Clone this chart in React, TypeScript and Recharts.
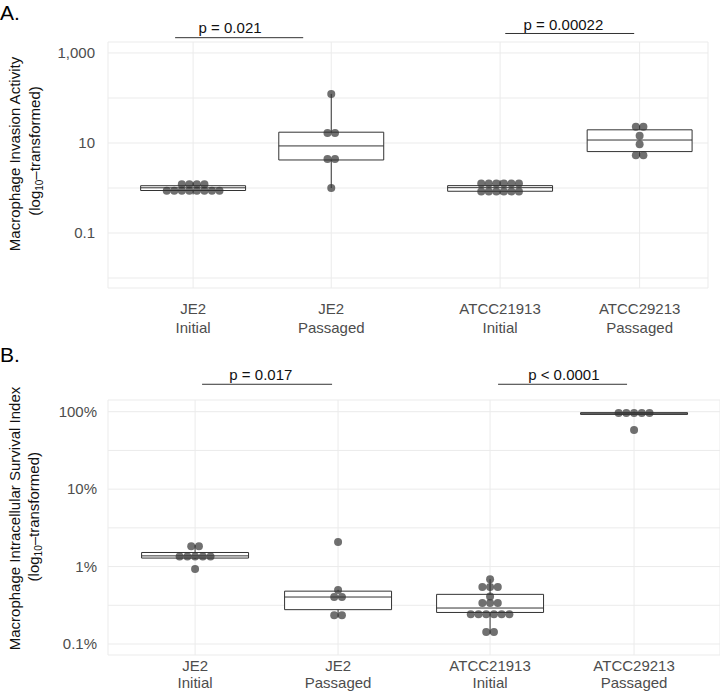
import React from 'react';
import {
  ComposedChart,
  Scatter,
  XAxis,
  YAxis,
  CartesianGrid,
  ReferenceArea,
  ReferenceLine,
  ReferenceDot,
} from 'recharts';

const FONT = '"Liberation Sans", Arial, Helvetica, sans-serif';

// x-axis categories (two text lines each)
const strains = ['JE2', 'JE2', 'ATCC21913', 'ATCC29213'];
const conditions = ['Initial', 'Passaged', 'Initial', 'Passaged'];

// A. Macrophage invasion activity (raw values, shown on a log10 axis)
const invasionJE2Initial = [0.72, 0.79, 0.85, 0.89, 0.93, 1.0, 1.02, 1.05, 1.1, 1.2, 1.26, 1.33];
const invasionJE2Passaged = [1.0, 3.98, 4.9, 15.1, 18.2, 123];
const invasionATCC21913Initial = [0.724, 0.794, 0.832, 0.851, 0.912, 0.964, 1.072, 1.096, 1.122, 1.148, 1.318, 1.479];
const invasionATCC29213Passaged = [5.01, 5.69, 9.35, 14.5, 21.7, 24.5];
const invasionTicks = [-2, -1, 0, 1, 2, 3];
const invasionTickLabels = ['', '0.1', '', '10', '', '1,000'];
const invasionPValues = ['p = 0.021', 'p = 0.00022'];

// B. Macrophage intracellular survival index (%)
const survivalJE2Initial = [0.93, 1.25, 1.3, 1.35, 1.4, 1.45, 1.75, 1.9];
const survivalJE2Passaged = [0.22, 0.25, 0.38, 0.43, 0.5, 2.07];
const survivalATCC21913Initial = [0.135, 0.151, 0.219, 0.251, 0.257, 0.263, 0.269, 0.269, 0.316, 0.339, 0.363, 0.412, 0.525, 0.543, 0.562, 0.687];
const survivalATCC29213Passaged = [58, 92, 93, 95, 98, 100];
const survivalTicks = [-1, -0.5, 0, 0.5, 1, 1.5, 2];
const survivalTickLabels = ['0.1%', '', '1%', '', '10%', '', '100%'];
const survivalPValues = ['p = 0.017', 'p < 0.0001'];

const DOT_STEP = 0.054;

// dot-density binning on the log scale (like geom_dotplot, binaxis = y)
function logBins(vals: number[], bw: number) {
  const s = vals.map(Math.log10).sort((a, b) => a - b);
  const bins: { center: number; count: number }[] = [];
  let i = 0;
  while (i < s.length) {
    let j = i;
    while (j + 1 < s.length && s[j + 1] - s[i] < bw) j++;
    bins.push({ center: (s[i] + s[j]) / 2, count: j - i + 1 });
    i = j + 1;
  }
  return bins;
}

function quantile(s: number[], p: number) {
  const h = (s.length - 1) * p;
  const lo = Math.floor(h);
  const next = lo + 1 < s.length ? s[lo + 1] : s[lo];
  return s[lo] + (h - lo) * (next - s[lo]);
}

function boxStats(vals: number[]) {
  const s = vals.map(Math.log10).sort((a, b) => a - b);
  const q1 = quantile(s, 0.25);
  const med = quantile(s, 0.5);
  const q3 = quantile(s, 0.75);
  const iqr = q3 - q1;
  const lo = Math.min(...s.filter((v) => v >= q1 - 1.5 * iqr));
  const hi = Math.max(...s.filter((v) => v <= q3 + 1.5 * iqr));
  return { q1, med, q3, lo, hi };
}

function dotsFor(vals: number[], pos: number, bw: number) {
  const out: { x: number; y: number }[] = [];
  logBins(vals, bw).forEach((b) => {
    for (let k = 0; k < b.count; k++) {
      out.push({ x: pos + (k - (b.count - 1) / 2) * DOT_STEP, y: b.center });
    }
  });
  return out;
}

function CategoryTick(props: any) {
  const { x, y, payload, pos, dy1, gap } = props;
  const i = pos.indexOf(payload.value);
  if (i < 0) return null;
  return (
    <text x={x} textAnchor="middle" fill="#4d4d4d" fontSize={15} fontFamily={FONT}>
      <tspan x={x} y={y + dy1}>{strains[i]}</tspan>
      <tspan x={x} y={y + dy1 + gap}>{conditions[i]}</tspan>
    </text>
  );
}

function Panel({ groups, cfg, ticks, tickLabels, pValues }: any) {
  const stats = groups.map(boxStats);
  const dots = groups.flatMap((g: number[], i: number) => dotsFor(g, cfg.pos[i], cfg.binwidth));

  return (
    <ComposedChart
      width={720}
      height={cfg.height}
      margin={{ top: cfg.top, right: cfg.right, bottom: 0, left: 0 }}
    >
      <CartesianGrid stroke="#ebebeb" strokeWidth={1} />
      <XAxis
        type="number"
        dataKey="x"
        domain={cfg.xDomain}
        ticks={cfg.pos}
        interval={0}
        allowDataOverflow
        axisLine={false}
        tickLine={false}
        tickSize={0}
        height={cfg.xAxisHeight}
        tick={(p: any) => <CategoryTick {...p} pos={cfg.pos} dy1={cfg.labelDy} gap={cfg.labelGap} />}
      />
      <YAxis
        type="number"
        dataKey="y"
        domain={cfg.yDomain}
        ticks={ticks}
        interval={0}
        allowDataOverflow
        axisLine={false}
        tickLine={false}
        tickSize={0}
        tickMargin={cfg.tickMargin}
        width={108}
        tick={{ fill: '#4d4d4d', fontSize: 15, fontFamily: FONT }}
        tickFormatter={(v: number) => tickLabels[ticks.indexOf(v)] ?? ''}
      />
      {stats.map((s: any, i: number) => (
        <ReferenceLine
          key={'wu' + i}
          segment={[{ x: cfg.pos[i], y: s.q3 }, { x: cfg.pos[i], y: s.hi }]}
          stroke="#333"
          strokeWidth={1}
        />
      ))}
      {stats.map((s: any, i: number) => (
        <ReferenceLine
          key={'wl' + i}
          segment={[{ x: cfg.pos[i], y: s.q1 }, { x: cfg.pos[i], y: s.lo }]}
          stroke="#333"
          strokeWidth={1}
        />
      ))}
      {stats.map((s: any, i: number) => (
        <ReferenceArea
          key={'box' + i}
          x1={cfg.pos[i] - cfg.boxHalf}
          x2={cfg.pos[i] + cfg.boxHalf}
          y1={s.q1}
          y2={s.q3}
          fill="#fff"
          fillOpacity={1}
          stroke="#333"
          strokeWidth={1}
        />
      ))}
      {stats.map((s: any, i: number) => (
        <ReferenceLine
          key={'med' + i}
          segment={[{ x: cfg.pos[i] - cfg.boxHalf, y: s.med }, { x: cfg.pos[i] + cfg.boxHalf, y: s.med }]}
          stroke="#333"
          strokeWidth={1}
        />
      ))}
      <Scatter
        data={dots}
        isAnimationActive={false}
        shape={(p: any) => <circle cx={p.cx} cy={p.cy} r={4} fill="#333" fillOpacity={0.7} />}
      />
      {cfg.brackets.map((b: any, i: number) => (
        <ReferenceLine
          key={'br' + i}
          segment={[{ x: b.x1, y: b.y }, { x: b.x2, y: b.y }]}
          stroke="#333"
          strokeWidth={1}
          ifOverflow="visible"
        />
      ))}
      {cfg.brackets.map((b: any, i: number) => (
        <ReferenceDot
          key={'pv' + i}
          x={b.tx}
          y={b.ty}
          r={0}
          ifOverflow="visible"
          shape={(p: any) => (
            <text x={p.cx} y={p.cy} textAnchor="middle" fill="#111" fontSize={15} fontFamily={FONT}>
              {pValues[i]}
            </text>
          )}
        />
      ))}
    </ComposedChart>
  );
}

const layoutA = {
  height: 345,
  top: 42,
  right: 12,
  xAxisHeight: 57,
  tickMargin: 13,
  xDomain: [0.39, 4.69],
  yDomain: [-2.222, 3.244],
  pos: [1, 1.99, 3.2, 4.2],
  boxHalf: 0.376,
  binwidth: 0.167,
  labelDy: 24.4,
  labelGap: 18.3,
  brackets: [
    { x1: 0.871, x2: 1.789, y: 3.34, tx: 1.265, ty: 3.433 },
    { x1: 3.237, x2: 4.161, y: 3.433, tx: 3.654, ty: 3.511 },
  ],
};

const layoutB = {
  height: 356,
  top: 65,
  right: 0,
  xAxisHeight: 36,
  tickMargin: 11,
  xDomain: [0.391, 4.671],
  yDomain: [-1.142, 2.151],
  pos: [1, 2, 3.063, 4.07],
  boxHalf: 0.374,
  binwidth: 0.1,
  labelDy: 14,
  labelGap: 17,
  brackets: [
    { x1: 1.049, x2: 1.958, y: 2.354, tx: 1.46, ty: 2.403 },
    { x1: 3.119, x2: 4.021, y: 2.354, tx: 3.579, ty: 2.403 },
  ],
};

function AxisTitle({ x1, x2, y1, y2, text }: any) {
  return (
    <g fill="#111" fontSize={15} fontFamily={FONT}>
      <text x={x1} y={y1} textAnchor="middle" transform={`rotate(-90, ${x1}, ${y1})`}>
        {text}
      </text>
      <text x={x2} y={y2} textAnchor="middle" transform={`rotate(-90, ${x2}, ${y2})`}>
        (log<tspan fontSize={10} dy={3}>10</tspan>
        <tspan dy={-3}>–transformed)</tspan>
      </text>
    </g>
  );
}

export default function App() {
  return (
    <div style={{ position: 'absolute', left: 0, top: 0, width: 720, height: 691, background: '#fff' }}>
      <div style={{ position: 'absolute', left: 0, top: 0 }}>
        <Panel
          groups={[invasionJE2Initial, invasionJE2Passaged, invasionATCC21913Initial, invasionATCC29213Passaged]}
          cfg={layoutA}
          ticks={invasionTicks}
          tickLabels={invasionTickLabels}
          pValues={invasionPValues}
        />
      </div>
      <div style={{ position: 'absolute', left: 0, top: 335 }}>
        <Panel
          groups={[survivalJE2Initial, survivalJE2Passaged, survivalATCC21913Initial, survivalATCC29213Passaged]}
          cfg={layoutB}
          ticks={survivalTicks}
          tickLabels={survivalTickLabels}
          pValues={survivalPValues}
        />
      </div>
      <svg
        width={720}
        height={691}
        style={{ position: 'absolute', left: 0, top: 0, pointerEvents: 'none' }}
      >
        <text x={0} y={20} fontSize={21} fontFamily={FONT} fill="#000">A.</text>
        <text x={0} y={362} fontSize={21} fontFamily={FONT} fill="#000">B.</text>
        <AxisTitle x1={19.5} y1={154} x2={39.5} y2={151} text="Macrophage Invasion Activity" />
        <AxisTitle x1={19.5} y1={518.5} x2={39.5} y2={516.7} text="Macrophage Intracellular Survival Index" />
      </svg>
    </div>
  );
}
